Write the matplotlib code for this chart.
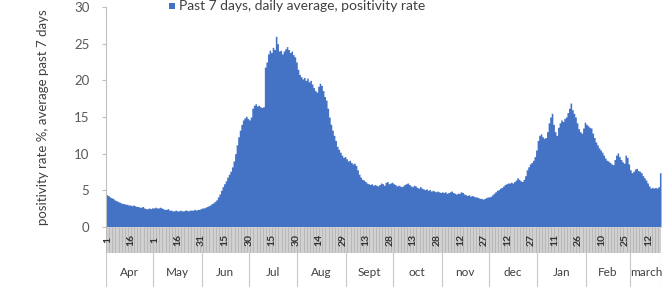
import numpy as np
import matplotlib.pyplot as plt
from matplotlib.patches import Rectangle

plt.rcParams['font.family'] = ['Lato', 'DejaVu Sans']

# daily positivity rate (%), 7-day average, one list per month
apr = [4.4, 4.3, 4.1, 4.0, 3.9, 3.7, 3.6, 3.5, 3.4, 3.3, 3.2, 3.2, 3.1, 3.1, 3.0,
       3.0, 2.9, 3.0, 2.9, 2.8, 2.8, 2.7, 2.7, 2.8, 2.6, 2.5, 2.5, 2.6, 2.5, 2.6]
may = [2.6, 2.7, 2.6, 2.6, 2.7, 2.6, 2.5, 2.4, 2.4, 2.5, 2.3, 2.3, 2.2, 2.2, 2.3,
       2.2, 2.2, 2.3, 2.2, 2.2, 2.3, 2.3, 2.2, 2.3, 2.3, 2.3, 2.4, 2.3, 2.4, 2.4, 2.5]
jun = [2.6, 2.6, 2.7, 2.8, 2.9, 3.0, 3.2, 3.3, 3.5, 3.7, 4.1, 4.5, 5.0, 5.5, 5.9,
       6.3, 6.8, 7.2, 7.6, 8.2, 9.0, 10.0, 11.2, 12.3, 13.2, 14.0, 14.6, 14.9, 15.1, 14.8]
jul = [14.6, 15.0, 16.2, 16.6, 16.8, 16.5, 16.6, 16.4, 16.3, 16.4, 21.8, 22.5, 23.6,
       24.1, 23.8, 24.5, 24.2, 26.0, 25.0, 24.0, 24.1, 23.6, 24.0, 24.3, 24.6, 24.2,
       23.8, 24.0, 23.5, 23.2, 22.5]
aug = [21.5, 20.8, 20.5, 20.2, 20.4, 20.0, 20.3, 19.8, 20.0, 19.5, 19.0, 18.6, 18.4,
       19.2, 19.6, 19.3, 18.6, 17.8, 17.3, 16.2, 15.0, 14.0, 13.2, 12.5, 11.8, 11.0,
       10.6, 10.2, 9.8, 9.5, 9.6]
sep = [9.3, 9.0, 9.1, 8.8, 8.6, 8.7, 8.4, 7.8, 7.2, 6.8, 6.5, 6.4, 6.2, 6.0, 5.9,
       5.8, 5.9, 5.7, 5.8, 5.7, 5.6, 5.8, 6.0, 5.9, 5.7, 6.1, 6.2, 5.9, 6.0, 6.1]
oct = [5.9, 5.8, 5.6, 5.7, 5.6, 5.5, 5.6, 5.8, 5.9, 6.0, 5.8, 5.6, 5.5, 5.7, 5.6,
       5.4, 5.3, 5.5, 5.3, 5.2, 5.1, 5.2, 5.0, 5.1, 4.9, 5.0, 4.9, 4.8, 4.9, 4.8, 4.7]
nov = [4.8, 4.7, 4.8, 4.6, 4.7, 4.8, 4.9, 4.7, 4.6, 4.5, 4.6, 4.6, 4.8, 4.7, 4.5,
       4.4, 4.3, 4.4, 4.2, 4.3, 4.2, 4.1, 4.1, 4.0, 3.9, 3.9, 3.8, 3.9, 4.0, 4.1]
dec = [4.1, 4.2, 4.4, 4.6, 4.8, 5.0, 5.1, 5.3, 5.4, 5.6, 5.8, 5.9, 6.0, 6.0, 6.1,
       6.0, 6.2, 6.4, 6.7, 6.5, 6.3, 6.2, 6.5, 7.0, 7.8, 8.2, 8.6, 8.8, 9.1, 9.6, 10.5]
jan = [11.8, 12.5, 12.7, 12.3, 12.1, 12.2, 13.0, 14.2, 15.0, 15.5, 14.0, 13.0, 12.5,
       13.6, 14.2, 14.6, 14.4, 14.8, 15.0, 15.6, 16.2, 16.9, 16.0, 15.5, 15.0, 14.2,
       13.4, 13.0, 12.8, 13.5, 14.3]
feb = [14.0, 13.8, 13.6, 13.5, 12.8, 12.2, 11.6, 11.2, 10.8, 10.5, 10.2, 9.8, 9.4,
       9.1, 9.0, 8.8, 8.6, 8.5, 9.2, 9.8, 10.1, 9.6, 9.2, 8.9, 8.7, 9.8, 9.5, 8.6]
mar = [7.8, 7.4, 7.6, 7.9, 8.0, 7.7, 7.6, 7.4, 7.0, 6.7, 6.4, 6.0, 5.6, 5.3, 5.4,
       5.3, 5.4, 5.3, 5.5, 7.4, 7.2]

months = ['Apr', 'May', 'Jun', 'Jul', 'Aug', 'Sept', 'oct', 'nov', 'dec', 'Jan',
          'Feb', 'march']
day_labels = ['1', '16', '1', '16', '31', '15', '30', '15', '30', '14', '29', '13',
              '28', '13', '28', '12', '27', '12', '27', '11', '26', '10', '25', '12']

monthly = [apr, may, jun, jul, aug, sep, oct, nov, dec, jan, feb, mar]
vals = np.concatenate(monthly)
N = len(vals)
x = np.arange(N)
starts = np.concatenate([[0], np.cumsum([len(m) for m in monthly])])
tick_idx = np.arange(0, N, 15)[:len(day_labels)]

blue = '#4472C4'
W, H = 672, 291
fig = plt.figure(figsize=(W / 100, H / 100), dpi=100)

# main area chart
ax = fig.add_axes([106 / W, 64 / H, 555 / W, 220 / H])
ax.fill_between(x, vals, step='post', color=blue, lw=0)
ax.set_xlim(0, N - 1)
ax.set_ylim(0, 30)
ax.set_yticks(range(0, 31, 5))
ax.set_xticks([])
for s in ['top', 'right', 'bottom']:
    ax.spines[s].set_visible(False)
ax.spines['left'].set_color('#BFBFBF')
ax.tick_params(axis='y', length=3, color='#BFBFBF', labelcolor='#595959',
               labelsize=9.5, pad=9)
ax.set_ylabel('positivity rate %, average past 7 days', fontsize=9.5,
              color='#404040', labelpad=18)

# grey band with day labels
bx = fig.add_axes([106 / W, 38 / H, 555 / W, 26 / H])
bx.set_xlim(0, N - 1)
bx.set_ylim(0, 1)
bx.set_facecolor('#D0D0D0')
bx.vlines(x[::2], 0, 1, color='#A8A8A8', lw=0.4)
for i, lab in zip(tick_idx, day_labels):
    bx.text(i + 1, 0.5, lab, rotation=90, ha='center', va='center', fontsize=7.5,
            color='#333333', fontweight='bold')
for s in bx.spines.values():
    s.set_visible(False)
bx.set_xticks([])
bx.set_yticks([])

# month row
mx = fig.add_axes([106 / W, 4 / H, 555 / W, 34 / H])
mx.set_xlim(0, N - 1)
mx.set_ylim(0, 1)
mx.axis('off')
for s in starts:
    mx.axvline(min(s, N - 1), color='#C8C8C8', lw=0.8)
for k, name in enumerate(months):
    mx.text((starts[k] + starts[k + 1]) / 2, 0.42, name, ha='center', va='center',
            fontsize=8.5, color='#404040')

# legend at the top
fig.patches.append(Rectangle((169 / W, 1 - 9 / H), 6 / W, 6 / H, facecolor=blue,
                             transform=fig.transFigure, figure=fig))
fig.text(179 / W, 1 - 10 / H, 'Past 7 days, daily average, positivity rate',
         fontsize=10, color='#404040', va='baseline')

fig.savefig('out.png', dpi=100)
